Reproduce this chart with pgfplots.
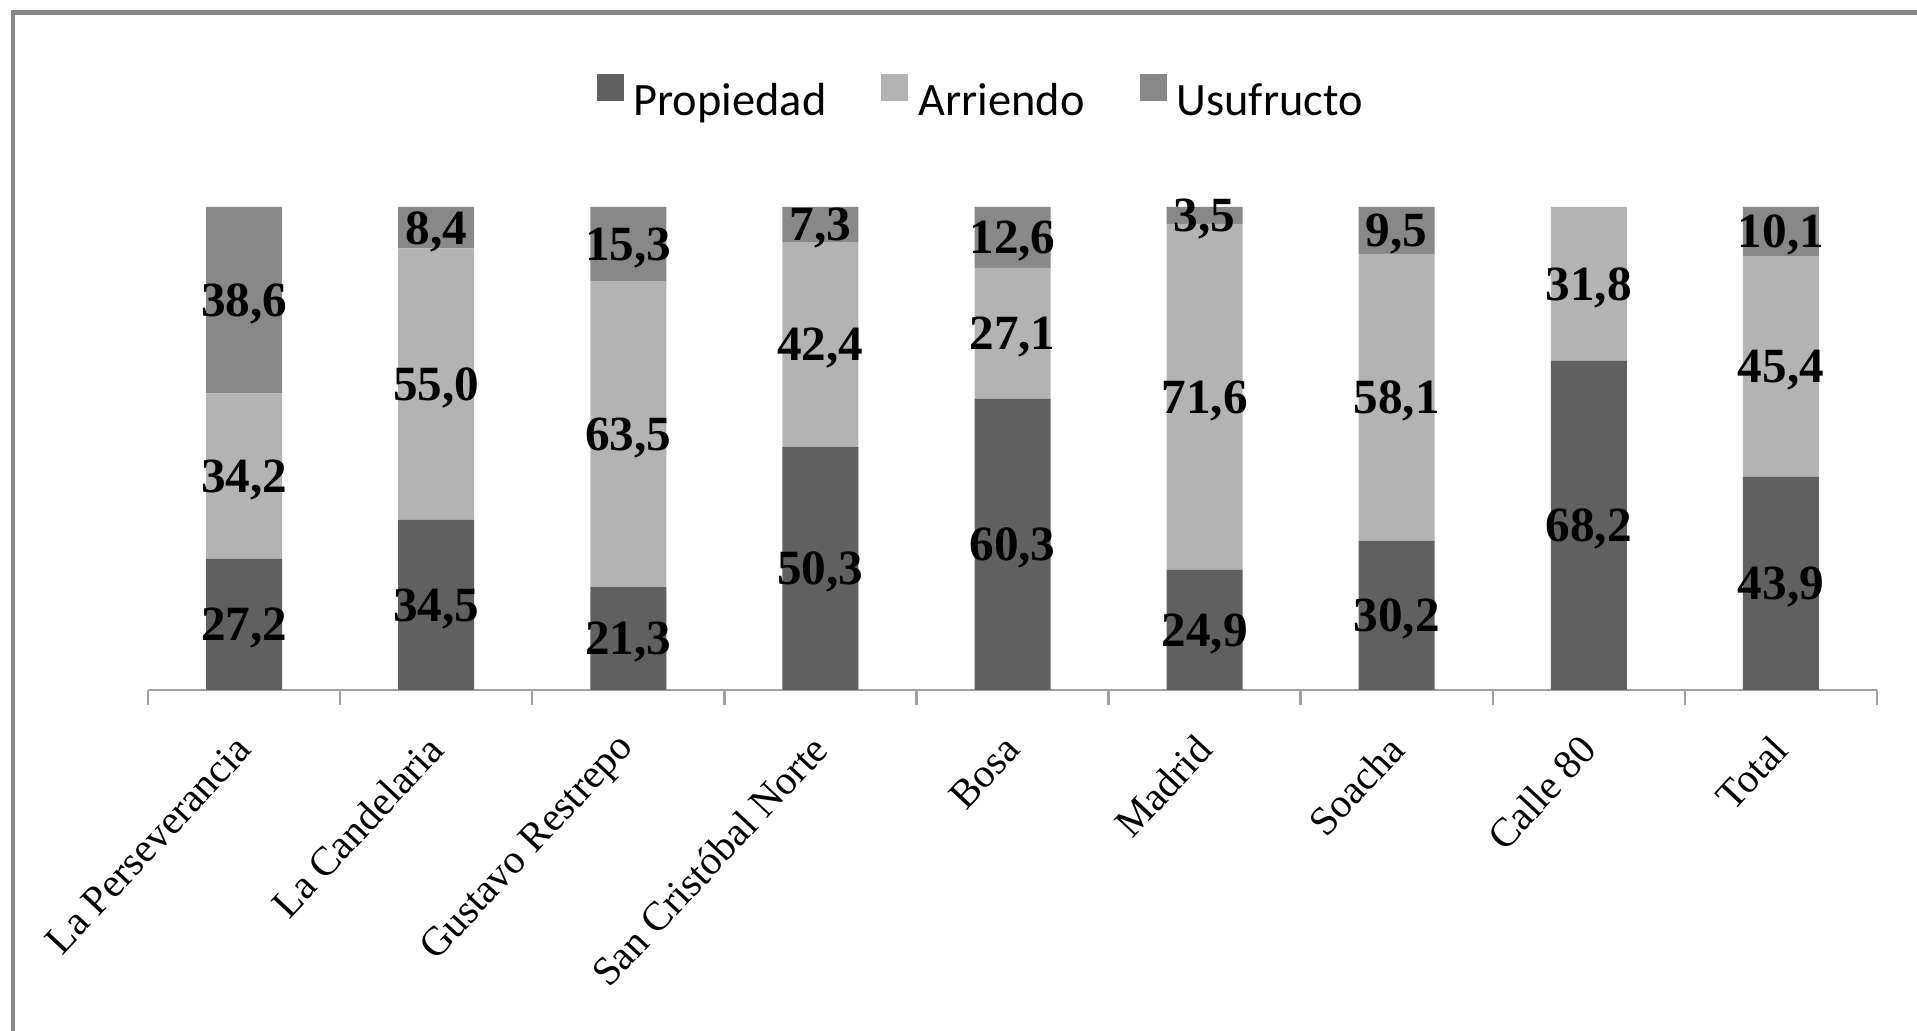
\documentclass[border=0pt]{standalone}
\usepackage{pgfplots}
\pgfplotsset{compat=1.18}
\usepackage{pgfplotstable}
\usepackage{fontspec}
\setmainfont{Liberation Serif}
\newfontfamily\legendfont{Carlito}

\definecolor{prop}{HTML}{606060}
\definecolor{arr}{HTML}{B3B3B3}
\definecolor{usu}{HTML}{888888}
\definecolor{axisgray}{HTML}{A0A0A0}

% shares normalised to 100 (100% stacked bars)
\pgfplotstableread{
x prop arr usu
0 27.20 34.20 38.60
1 35.24 56.18 8.58
2 21.28 63.44 15.28
3 50.30 42.40 7.30
4 60.30 27.10 12.60
5 24.90 71.60 3.50
6 30.88 59.41 9.71
7 68.20 31.80 0
8 44.16 45.67 10.17
}\shares

% printed values, at the middle of each segment
\pgfplotstableread{
x y label
0 13.60 27,2
0 44.30 34,2
0 80.70 38,6
1 17.62 34,5
1 63.33 55,0
1 95.71 8,4
2 10.64 21,3
2 53.00 63,5
2 92.36 15,3
3 25.15 50,3
3 71.50 42,4
3 96.35 7,3
4 30.15 60,3
4 73.85 27,1
4 93.70 12,6
5 12.45 24,9
5 60.70 71,6
5 98.25 3,5
6 15.44 30,2
6 60.59 58,1
6 95.15 9,5
7 34.10 68,2
7 84.10 31,8
8 22.08 43,9
8 67.00 45,4
8 94.92 10,1
}\labels

\begin{document}
\begin{tikzpicture}
\useasboundingbox (0,0) rectangle (19.17,10.31);
\draw[usu, line width=0.45mm, line join=miter] (0.13,-0.1) -- (0.13,10.185) -- (19.3,10.185);

\begin{axis}[
  at={(1.48cm,3.41cm)}, anchor=south west,
  scale only axis, width=17.29cm, height=4.83cm,
  xmin=-0.5, xmax=8.5, ymin=0, ymax=100,
  ybar stacked, bar width=0.76cm,
  axis x line=bottom, axis y line=none,
  axis line style={draw=axisgray, line width=0.25mm, -},
  xtick={0,...,8},
  xticklabels={La Perseverancia, La Candelaria, Gustavo Restrepo, San Cristóbal Norte, Bosa, Madrid, Soacha, Calle 80, Total},
  major tick length=0pt,
  minor xtick={-0.5,0.5,...,8.5},
  minor tick length=1.5mm,
  tick align=outside,
  minor tick style={draw=axisgray, line width=0.25mm},
  xticklabel style={rotate=47, anchor=east, inner sep=0pt, font=\fontsize{11.6}{13}\selectfont},
  xticklabel shift=0.52cm,
  legend columns=-1,
  legend style={at={(0.481,1.22)}, anchor=center, draw=none, fill=none,
    font=\legendfont\fontsize{13.2}{15}\selectfont,
    nodes={inner xsep=0pt},
    /tikz/every odd column/.append style={column sep=0.1cm},
    /tikz/every even column/.append style={column sep=0.55cm}},
  legend image code/.code={\fill[#1] (0cm,0.01cm) rectangle (0.27cm,0.28cm);},
]
\addplot[fill=prop, draw=none] table[x=x, y=prop] {\shares};
\addplot[fill=arr, draw=none] table[x=x, y=arr] {\shares};
\addplot[fill=usu, draw=none] table[x=x, y=usu] {\shares};
\legend{Propiedad, Arriendo, Usufructo}
\end{axis}

\begin{axis}[
  at={(1.48cm,3.41cm)}, anchor=south west,
  scale only axis, width=17.29cm, height=4.83cm,
  xmin=-0.5, xmax=8.5, ymin=0, ymax=100,
  hide axis, clip=false,
]
\addplot[only marks, mark=none, nodes near coords, point meta=explicit symbolic,
  every node near coord/.append style={anchor=center, inner sep=0pt, text depth=0pt,
    font=\fontsize{14}{16}\selectfont\bfseries}]
  table[x=x, y=y, meta=label] {\labels};
\end{axis}
\end{tikzpicture}
\end{document}
